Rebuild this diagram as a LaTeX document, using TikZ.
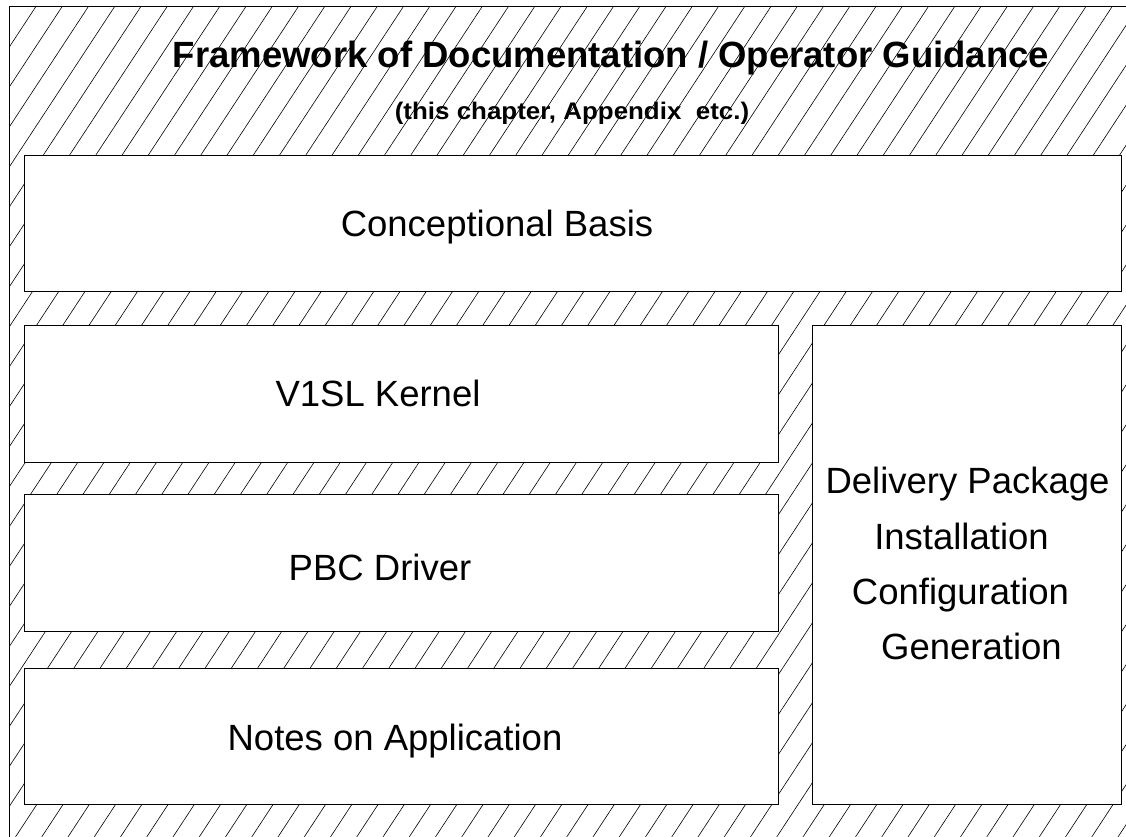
\documentclass[tikz,border=0pt]{standalone}
\usepackage{fontspec}
\setmainfont{Liberation Sans}
\begin{document}
\begin{tikzpicture}[x=1pt,y=-1pt,
  panel/.style={draw=black,line width=0.8pt,fill=white,inner sep=0pt,outer sep=0pt},
  hatchline/.style={line width=0.6pt,black},
  boxtext/.style={anchor=base,inner sep=0pt,font=\fontsize{36.5}{40}\selectfont},
  titletext/.style={anchor=base,inner sep=0pt}]
\useasboundingbox (0,0) rectangle (1126,836);
\clip (0,0) rectangle (1126,836);
\fill[white] (0,0) rectangle (1126,836);

% diagonal hatching of the framework area
\begin{scope}
  \clip (9,6) rectangle (1140,850);
  \foreach \k in {-16,...,56}{
    \draw[hatchline] ({325+26.25*\k},6) -- ({325+26.25*\k-555},851);
  }
\end{scope}
\draw[line width=0.8pt] (1140,6) -- (9,6) -- (9,850);

% framework heading
\node[titletext] (title) at (611,67)
  {\resizebox{876pt}{!}{\fontsize{36}{40}\selectfont\bfseries Framework of Documentation / Operator Guidance}};
\node[titletext] (subtitle) at (572,119)
  {\scalebox{1.08}[1]{\fontsize{24}{28}\selectfont\bfseries (this chapter, Appendix\ \ etc.)}};

% document parts
\node[panel,minimum width=1097pt,minimum height=136pt] (concept) at (572.5,223) {};
\node[panel,minimum width=754pt,minimum height=137pt] (kernel) at (401,393.5) {};
\node[panel,minimum width=754pt,minimum height=137pt] (pbc) at (401,562.5) {};
\node[panel,minimum width=754pt,minimum height=136pt] (notes) at (401,736) {};
\node[panel,minimum width=309pt,minimum height=479pt] (delivery) at (966.5,564.5) {};

\node[boxtext] (conceptlabel) at (497,236) {Conceptional Basis};
\node[boxtext] (kernellabel) at (378,406) {V1SL Kernel};
\node[boxtext] (pbclabel) at (380,580) {PBC Driver};
\node[boxtext] (noteslabel) at (395,750) {Notes on Application};

\node[boxtext] (dl1) at (967.5,493) {Delivery Package};
\node[boxtext] (dl2) at (961.5,549) {Installation};
\node[boxtext] (dl3) at (960.5,604) {Configuration};
\node[boxtext] (dl4) at (971.5,659) {Generation};
\end{tikzpicture}
\end{document}
